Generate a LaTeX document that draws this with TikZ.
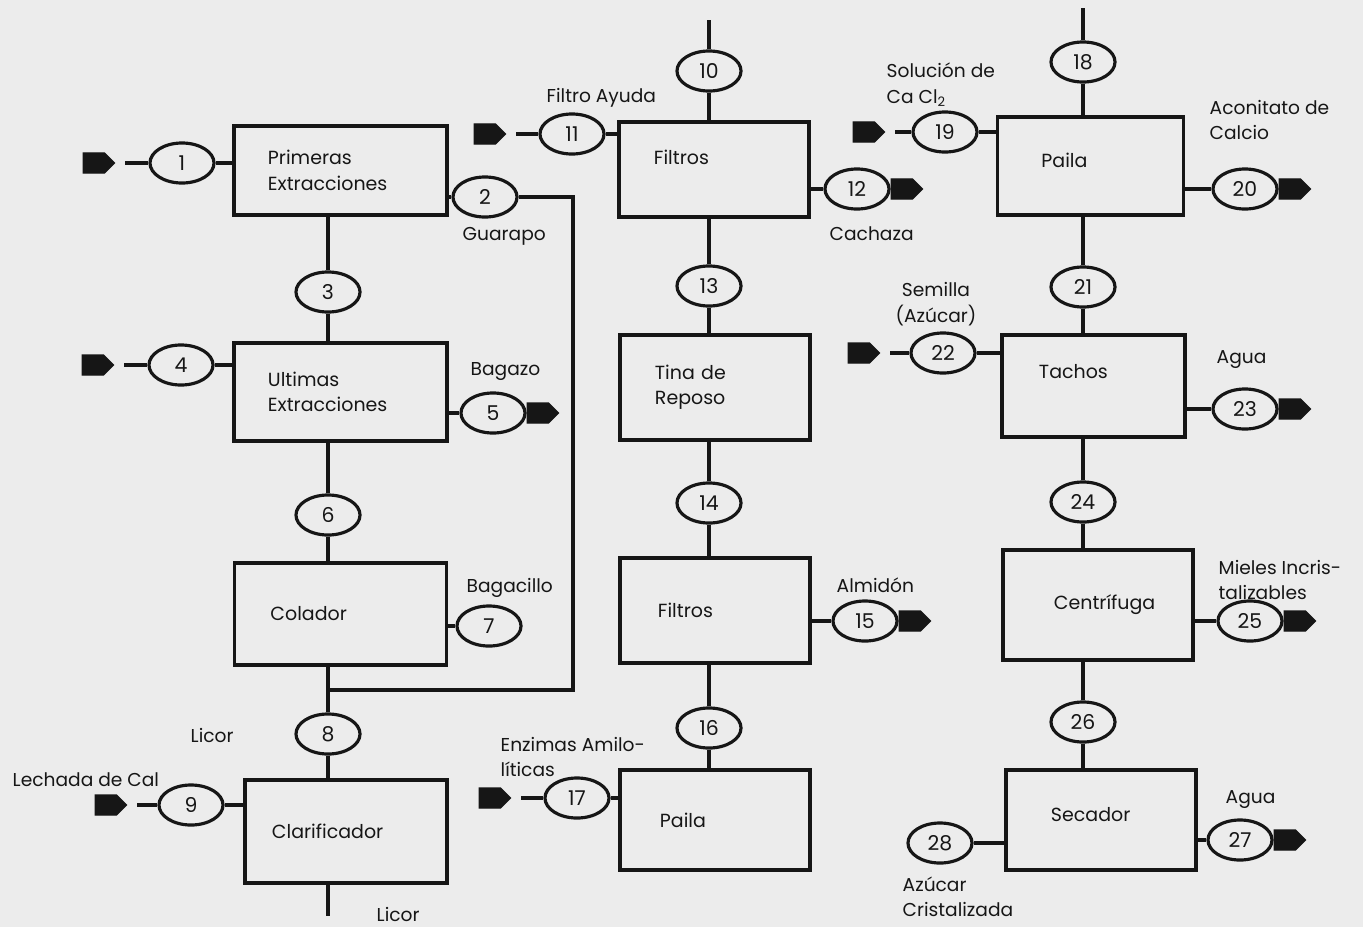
\documentclass[tikz,border=0pt]{standalone}
\usepackage{fontspec}
\setmainfont{Poppins}
\usetikzlibrary{positioning,shapes.geometric,shapes.symbols}
\definecolor{Paper}{HTML}{ECECEC}
\definecolor{Ink}{HTML}{161616}
\tikzset{
  unitbox/.style={
    draw=Ink,line width=1pt,minimum height=1cm,
    text width=#1,align=left,inner xsep=0.34cm,
    font=\fontsize{5.4}{7.2}\selectfont,text=Ink
  },
  unitbox/.default=1.45cm,
  stream/.style={
    draw=Ink,ellipse,line width=0.9pt,fill=Paper,
    minimum width=0.64cm,minimum height=0.40cm,inner sep=0pt,
    font=\fontsize{5.8}{7}\selectfont,text=Ink
  },
  flowarrow/.style={
    signal,signal to=east,fill=Ink,draw=Ink,
    minimum width=0.31cm,minimum height=0.20cm,inner sep=0pt
  },
  tag/.style={
    font=\fontsize{5.3}{7.2}\selectfont,text=Ink,
    anchor=west,align=left,inner sep=0pt
  },
  pipe/.style={draw=Ink,line width=0.9pt},
}

\begin{document}
\begin{tikzpicture}[x=0.01cm,y=-0.01cm]
  \fill[Paper] (0,0) rectangle (1363,927);
  \useasboundingbox (0,0) rectangle (1363,927);
  % process units
  \node[unitbox,minimum height=0.89cm] (b1) at (340.5,170.5) {Primeras\\Extracciones};
  \node[unitbox,minimum height=0.98cm] (b2) at (340.5,392) {Ultimas\\Extracciones};
  \node[unitbox={1.40cm},inner xsep=0.36cm,minimum height=1.02cm] (b3) at (340.5,614) {Colador};
  \node[unitbox={1.48cm},inner xsep=0.27cm,minimum height=1.03cm] (b4) at (346,831.5) {Clarificador};
  \node[unitbox={1.20cm},inner xsep=0.35cm,minimum height=0.95cm] (b5) at (714,169.5) {Filtros\\\mbox{}};
  \node[unitbox={1.20cm},inner xsep=0.35cm,minimum height=1.05cm] (b6) at (715,387.5) {Tina de\\Reposo};
  \node[unitbox={1.14cm},inner xsep=0.38cm,minimum height=1.05cm] (b7) at (715,610.5) {Filtros};
  \node[unitbox={1.10cm},inner xsep=0.40cm,minimum height=1.00cm] (b8) at (715,820) {Paila};
  \node[unitbox={0.98cm},inner xsep=0.44cm,minimum height=0.98cm] (b9) at (1090.5,166) {Paila\\[-4pt]\mbox{}};
  \node[unitbox={1.09cm},inner xsep=0.37cm,minimum height=1.02cm] (b10) at (1093.5,386) {Tachos\\[1pt]\mbox{}};
  \node[unitbox={0.88cm},inner xsep=0.51cm,minimum height=1.10cm] (b11) at (1098,605) {Centrífuga};
  \node[unitbox={1.00cm},inner xsep=0.45cm,minimum height=1.00cm] (b12) at (1101,820) {Secador\\[-4pt]\mbox{}};
  % streams
  \node[stream] (e1) at (182,163) {1};
  \node[stream] (e2) at (485,197) {2};
  \node[stream] (e3) at (328,292) {3};
  \node[stream] (e4) at (181,365) {4};
  \node[stream] (e5) at (493,413) {5};
  \node[stream] (e6) at (328,515) {6};
  \node[stream] (e7) at (489,626) {7};
  \node[stream] (e8) at (328,734) {8};
  \node[stream] (e9) at (191,805) {9};
  \node[stream] (e10) at (709,71) {10};
  \node[stream] (e11) at (572,134) {11};
  \node[stream] (e12) at (857,189) {12};
  \node[stream] (e13) at (709,286) {13};
  \node[stream] (e14) at (709,503) {14};
  \node[stream] (e15) at (865,621) {15};
  \node[stream] (e16) at (709,728) {16};
  \node[stream] (e17) at (577,798) {17};
  \node[stream] (e18) at (1083,62) {18};
  \node[stream] (e19) at (945,132) {19};
  \node[stream] (e20) at (1245,189) {20};
  \node[stream] (e21) at (1083,287) {21};
  \node[stream] (e22) at (943,353) {22};
  \node[stream] (e23) at (1245,409) {23};
  \node[stream] (e24) at (1083,502) {24};
  \node[stream] (e25) at (1250,621) {25};
  \node[stream] (e26) at (1083,722) {26};
  \node[stream] (e27) at (1240,840) {27};
  \node[stream] (e28) at (940,843) {28};
  % feed and product arrows
  \node[flowarrow,left=0.33cm of e1] (in1) {};
  \node[flowarrow,left=0.33cm of e4] (in4) {};
  \node[flowarrow,left=0.30cm of e9] (in9) {};
  \node[flowarrow,left=0.32cm of e11] (in11) {};
  \node[flowarrow,left=0.32cm of e17] (in17) {};
  \node[flowarrow,left=0.26cm of e19] (in19) {};
  \node[flowarrow,left=0.29cm of e22] (in22) {};
  \node[flowarrow,right=0pt of e5] (out5) {};
  \node[flowarrow,right=0pt of e12] (out12) {};
  \node[flowarrow,right=0pt of e15] (out15) {};
  \node[flowarrow,right=0pt of e20] (out20) {};
  \node[flowarrow,right=0pt of e23] (out23) {};
  \node[flowarrow,right=0pt of e25] (out25) {};
  \node[flowarrow,right=0pt of e27] (out27) {};
  \coordinate (top10) at (709,20);
  \coordinate (top18) at (1083,8);
  \coordinate (end4) at (328,916);
  \coordinate (ret) at (573,197);
  \coordinate (jn) at (328,690);
  % left column
  \draw[pipe] ([xshift=0.1cm]in1.east) -- (e1.west);
  \draw[pipe] (e1.east) -- (e1.east -| b1.west);
  \draw[pipe] (b1.east |- e2) -- (e2.west);
  \draw[pipe] (e2.east) -- (ret) |- (jn);
  \draw[pipe] (e3.north) -- (e3.north |- b1.south);
  \draw[pipe] (e3.south) -- (e3.south |- b2.north);
  \draw[pipe] ([xshift=0.1cm]in4.east) -- (e4.west);
  \draw[pipe] (e4.east) -- (e4.east -| b2.west);
  \draw[pipe] (b2.east |- e5) -- (e5.west);
  \draw[pipe] (e6.north) -- (e6.north |- b2.south);
  \draw[pipe] (e6.south) -- (e6.south |- b3.north);
  \draw[pipe] (b3.east |- e7) -- (e7.west);
  \draw[pipe] (jn |- b3.south) -- (e8.north);
  \draw[pipe] (e8.south) -- (e8.south |- b4.north);
  \draw[pipe] ([xshift=0.1cm]in9.east) -- (e9.west);
  \draw[pipe] (e9.east) -- (e9.east -| b4.west);
  \draw[pipe] (end4 |- b4.south) -- (end4);
  % middle column
  \draw[pipe] (top10) -- (e10.north);
  \draw[pipe] (e10.south) -- (e10.south |- b5.north);
  \draw[pipe] ([xshift=0.1cm]in11.east) -- (e11.west);
  \draw[pipe] (e11.east) -- (e11.east -| b5.west);
  \draw[pipe] (b5.east |- e12) -- (e12.west);
  \draw[pipe] (e13.north) -- (e13.north |- b5.south);
  \draw[pipe] (e13.south) -- (e13.south |- b6.north);
  \draw[pipe] (e14.north) -- (e14.north |- b6.south);
  \draw[pipe] (e14.south) -- (e14.south |- b7.north);
  \draw[pipe] (b7.east |- e15) -- (e15.west);
  \draw[pipe] (e16.north) -- (e16.north |- b7.south);
  \draw[pipe] (e16.south) -- (e16.south |- b8.north);
  \draw[pipe] ([xshift=0.1cm]in17.east) -- (e17.west);
  \draw[pipe] (e17.east) -- (e17.east -| b8.west);
  % right column
  \draw[pipe] (top18) -- (e18.north);
  \draw[pipe] (e18.south) -- (e18.south |- b9.north);
  \draw[pipe] ([xshift=0.1cm]in19.east) -- (e19.west);
  \draw[pipe] (e19.east) -- (e19.east -| b9.west);
  \draw[pipe] (b9.east |- e20) -- (e20.west);
  \draw[pipe] (e21.north) -- (e21.north |- b9.south);
  \draw[pipe] (e21.south) -- (e21.south |- b10.north);
  \draw[pipe] ([xshift=0.1cm]in22.east) -- (e22.west);
  \draw[pipe] (e22.east) -- (e22.east -| b10.west);
  \draw[pipe] (b10.east |- e23) -- (e23.west);
  \draw[pipe] (e24.north) -- (e24.north |- b10.south);
  \draw[pipe] (e24.south) -- (e24.south |- b11.north);
  \draw[pipe] (b11.east |- e25) -- (e25.west);
  \draw[pipe] (e26.north) -- (e26.north |- b11.south);
  \draw[pipe] (e26.south) -- (e26.south |- b12.north);
  \draw[pipe] (b12.east |- e27) -- (e27.west);
  \draw[pipe] (b12.west |- e28) -- (e28.east);
  % stream names
  \node[tag] (t2) at (462,236) {Guarapo};
  \node[tag] (t5) at (470,372) {Bagazo};
  \node[tag] (t7) at (466,588) {Bagacillo};
  \node[tag] (t8) at (190,735) {Licor};
  \node[tag] (t9) at (12,780) {Lechada de Cal};
  \node[tag] (tend) at (376,914) {Licor};
  \node[tag] (t11) at (546,98) {Filtro Ayuda};
  \node[tag] (t12) at (829,234) {Cachaza};
  \node[tag] (t15) at (836,585) {Almidón};
  \node[tag] (t17) at (500,757) {Enzimas Amilo-\\líticas};
  \node[tag] (t19) at (886,85) {Solución de\\Ca Cl\textsubscript{2}};
  \node[tag] (t20) at (1209,120) {Aconitato de\\Calcio};
  \node[tag,anchor=center,align=center] (t22) at (936,304) {Semilla\\(Azúcar)};
  \node[tag] (t23) at (1216,360) {Agua};
  \node[tag] (t25) at (1218,580) {Mieles Incris-\\talizables};
  \node[tag] (t27) at (1225,800) {Agua};
  \node[tag] (t28) at (902,897) {Azúcar\\Cristalizada};
\end{tikzpicture}
\end{document}
